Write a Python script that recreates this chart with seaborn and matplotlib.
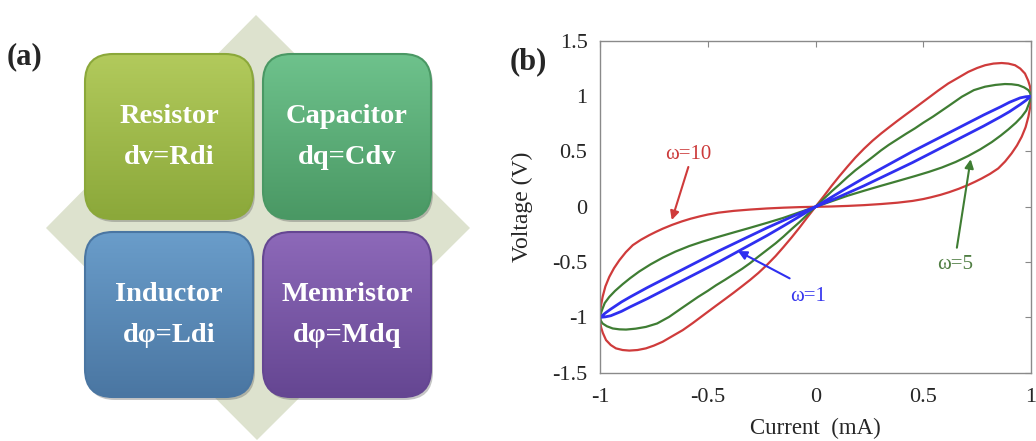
import numpy as np
import pandas as pd
import matplotlib
matplotlib.use('Agg')
import matplotlib.pyplot as plt
from matplotlib.patches import FancyBboxPatch, Polygon
from matplotlib.colors import to_rgb
import seaborn as sns

# ---- panel (a) labels ----
box_names = ['Resistor', 'Capacitor', 'Inductor', 'Memristor']
box_laws = ['dv=Rdi', 'dq=Cdv', 'dφ=Ldi', 'dφ=Mdq']
box_top_colors = ['#b2ca5c', '#6ec28c', '#6a9dca', '#8d69b9']
box_bot_colors = ['#8ba83a', '#4a9864', '#4a76a2', '#654692']

# ---- panel (b) data: hysteresis loops ----
# omega = 10 (red), steep branch (-1,-1) -> (1,1)
w10_steep_x = [-1.0, -0.999, -0.995, -0.987, -0.972, -0.95, -0.926, -0.895, -0.864, -0.826, -0.787, -0.75, -0.709, -0.665,
               -0.616, -0.57, -0.524, -0.462, -0.42, -0.38, -0.34, -0.304, -0.265, -0.225, -0.185, -0.149, -0.11, -0.075, -0.04, 0.0,
               0.04, 0.075, 0.11, 0.149, 0.185, 0.225, 0.265, 0.304, 0.34, 0.38, 0.42, 0.462, 0.524, 0.57, 0.616,
               0.665, 0.709, 0.75, 0.787, 0.826, 0.864, 0.895, 0.926, 0.95, 0.972, 0.987, 0.995, 0.999, 1.0]
w10_steep_y = [-1.0, -1.04, -1.09, -1.14, -1.205, -1.25, -1.28, -1.295, -1.30, -1.295, -1.28, -1.255, -1.22, -1.17,
               -1.115, -1.052, -0.985, -0.895, -0.835, -0.777, -0.717, -0.662, -0.598, -0.525, -0.445, -0.365, -0.275, -0.19, -0.1, 0.0,
               0.1, 0.19, 0.275, 0.365, 0.445, 0.525, 0.598, 0.662, 0.717, 0.777, 0.835, 0.895, 0.985, 1.052, 1.115,
               1.17, 1.22, 1.255, 1.28, 1.295, 1.30, 1.295, 1.28, 1.25, 1.205, 1.14, 1.09, 1.04, 1.0]
# flat branch (1,1) -> (-1,-1)
w10_flat_x = [1.0, 1.0, 0.996, 0.988, 0.975, 0.957, 0.935, 0.91, 0.88, 0.848, 0.81, 0.771, 0.74, 0.709, 0.665, 0.62,
              0.58, 0.536, 0.5, 0.45, 0.38, 0.304, 0.225, 0.149, 0.075, 0.0,
              -0.075, -0.149, -0.225, -0.304, -0.38, -0.45, -0.5, -0.536, -0.58, -0.62, -0.665, -0.709, -0.74,
              -0.771, -0.81, -0.848, -0.88, -0.91, -0.935, -0.957, -0.975, -0.988, -0.996, -1.0, -1.0]
w10_flat_y = [1.0, 0.96, 0.90, 0.815, 0.72, 0.634, 0.555, 0.483, 0.41, 0.347, 0.298, 0.256, 0.226, 0.198, 0.163, 0.132,
              0.108, 0.086, 0.07, 0.053, 0.037, 0.025, 0.015, 0.008, 0.003, 0.0,
              -0.003, -0.008, -0.015, -0.025, -0.037, -0.053, -0.07, -0.086, -0.108, -0.132, -0.163, -0.198, -0.226,
              -0.256, -0.298, -0.347, -0.41, -0.483, -0.555, -0.634, -0.72, -0.815, -0.90, -0.96, -1.0]
# omega = 5 (green)
w5_steep_x = [-1.0, -0.996, -0.988, -0.968, -0.941, -0.91, -0.879, -0.835, -0.787, -0.735, -0.679, -0.62, -0.545, -0.5,
              -0.462, -0.42, -0.38, -0.34, -0.304, -0.265, -0.225, -0.185, -0.149, -0.11, -0.075, -0.04, 0.0,
              0.04, 0.075, 0.11, 0.149, 0.185, 0.225, 0.265, 0.304, 0.34, 0.38, 0.42, 0.462,
              0.5, 0.545, 0.62, 0.679, 0.735, 0.787, 0.835, 0.879, 0.91, 0.941, 0.968, 0.988, 0.996, 1.0]
w5_steep_y = [-1.0, -1.03, -1.055, -1.08, -1.10, -1.108, -1.11, -1.102, -1.086, -1.055, -0.995, -0.915, -0.815, -0.76,
              -0.71, -0.66, -0.61, -0.56, -0.51, -0.45, -0.39, -0.33, -0.27, -0.2, -0.14, -0.075, 0.0,
              0.075, 0.14, 0.2, 0.27, 0.33, 0.39, 0.45, 0.51, 0.56, 0.61, 0.66, 0.71,
              0.76, 0.815, 0.915, 0.995, 1.055, 1.086, 1.102, 1.11, 1.108, 1.10, 1.08, 1.055, 1.03, 1.0]
w5_flat_x = [1.0, 0.997, 0.99, 0.978, 0.957, 0.93, 0.895, 0.86, 0.818, 0.765, 0.709, 0.65, 0.586, 0.525, 0.462, 0.38,
             0.304, 0.225, 0.149, 0.075, 0.0,
             -0.075, -0.149, -0.225, -0.304, -0.38, -0.462, -0.525, -0.586, -0.65, -0.709, -0.765, -0.818,
             -0.86, -0.895, -0.93, -0.957, -0.978, -0.99, -0.997, -1.0]
w5_flat_y = [1.0, 0.97, 0.93, 0.87, 0.815, 0.76, 0.70, 0.645, 0.585, 0.52, 0.46, 0.405, 0.355, 0.315, 0.278, 0.232,
             0.19, 0.145, 0.10, 0.05, 0.0,
             -0.05, -0.10, -0.145, -0.19, -0.232, -0.278, -0.315, -0.355, -0.405, -0.46, -0.52, -0.585,
             -0.645, -0.70, -0.76, -0.815, -0.87, -0.93, -0.97, -1.0]
# omega = 1 (blue)
w1_steep_x = [-1.0, -0.975, -0.95, -0.9, -0.86, -0.78, -0.7, -0.62, -0.55, -0.45, -0.375, -0.3, -0.225, -0.15, -0.075, 0.0,
              0.075, 0.15, 0.225, 0.3, 0.375, 0.45, 0.55, 0.62, 0.7, 0.78, 0.86, 0.9, 0.95, 0.975, 1.0]
w1_steep_y = [-1.0, -0.995, -0.985, -0.945, -0.905, -0.83, -0.75, -0.67, -0.60, -0.50, -0.42, -0.34, -0.26, -0.175, -0.088, 0.0,
              0.088, 0.175, 0.26, 0.34, 0.42, 0.50, 0.60, 0.67, 0.75, 0.83, 0.905, 0.945, 0.985, 0.995, 1.0]
w1_flat_x = [1.0, 0.975, 0.95, 0.9, 0.86, 0.78, 0.7, 0.62, 0.55, 0.45, 0.375, 0.3, 0.225, 0.15, 0.075, 0.0,
             -0.075, -0.15, -0.225, -0.3, -0.375, -0.45, -0.55, -0.62, -0.7, -0.78, -0.86, -0.9, -0.95, -0.975, -1.0]
w1_flat_y = [1.0, 0.96, 0.925, 0.86, 0.815, 0.73, 0.65, 0.57, 0.50, 0.40, 0.33, 0.26, 0.19, 0.125, 0.06, 0.0,
             -0.06, -0.125, -0.19, -0.26, -0.33, -0.40, -0.50, -0.57, -0.65, -0.73, -0.815, -0.86, -0.925, -0.96, -1.0]

xticks = [-1, -0.5, 0, 0.5, 1]
xtick_labels = ['-1', '-0.5', '0', '0.5', '1']
yticks = [-1.5, -1, -0.5, 0, 0.5, 1, 1.5]
ytick_labels = ['-1.5', '-1', '-0.5', '0', '0.5', '1', '1.5']

#build one long df for seaborn
loops = {'ω=10': (w10_steep_x + w10_flat_x, w10_steep_y + w10_flat_y),
         'ω=5': (w5_steep_x + w5_flat_x, w5_steep_y + w5_flat_y),
         'ω=1': (w1_steep_x + w1_flat_x, w1_steep_y + w1_flat_y)}
rows = []
for name, (xs, ys) in loops.items():
    for k, (xv, yv) in enumerate(zip(xs, ys)):
        rows.append({'omega': name, 'order': k, 'current': xv, 'voltage': yv})
df = pd.DataFrame(rows)

line_colors = {'ω=10': '#cf3b3b', 'ω=5': '#3f7d33', 'ω=1': '#2f2ff0'}
text_colors = {'ω=10': '#cc3a3a', 'ω=5': '#4f7d42', 'ω=1': '#3535ee'}
line_widths = {'ω=10': 1.6, 'ω=5': 1.6, 'ω=1': 2.0}

sns.set_style('white')
plt.rcParams['font.family'] = ['Liberation Serif', 'DejaVu Serif']

fig = plt.figure(figsize=(10.36, 4.41), dpi=100)

# ---------------- panel (a) ----------------
ax0 = fig.add_axes([0, 0, 1, 1])
ax0.set_xlim(0, 1036)
ax0.set_ylim(441, 0)
ax0.axis('off')

diamond = Polygon([(256, 15), (470, 228), (257, 440), (46, 228)], closed=True,
                  facecolor='#dde2ce', edgecolor='none', zorder=1)
ax0.add_patch(diamond)

box_x = [85, 263, 85, 263]
box_y = [54, 54, 232, 232]
bw, bh = 168, 165
for i in range(4):
    x0, y0 = box_x[i], box_y[i]
    # soft shadow
    shadow = FancyBboxPatch((x0 + 2, y0 + 3), bw, bh, boxstyle='round,pad=0,rounding_size=28',
                            facecolor='#5a5a5a', edgecolor='none', alpha=0.35, zorder=2)
    ax0.add_patch(shadow)
    patch = FancyBboxPatch((x0, y0), bw, bh, boxstyle='round,pad=0,rounding_size=28',
                           facecolor='none', edgecolor=box_bot_colors[i], lw=1.5, zorder=4)
    ax0.add_patch(patch)
    top = np.array(to_rgb(box_top_colors[i]))
    bot = np.array(to_rgb(box_bot_colors[i]))
    t = np.linspace(0, 1, 200)[:, None]
    grad = (top[None, :] * (1 - t) + bot[None, :] * t)[:, None, :]
    grad = np.repeat(grad, 2, axis=1)
    im = ax0.imshow(grad, extent=(x0, x0 + bw, y0 + bh, y0), aspect='auto', zorder=3,
                    interpolation='bilinear')
    clip = FancyBboxPatch((x0, y0), bw, bh, boxstyle='round,pad=0,rounding_size=28',
                          facecolor='none', edgecolor='none', transform=ax0.transData)
    ax0.add_patch(clip)
    im.set_clip_path(clip)
    cx, cy = x0 + bw / 2, y0 + bh / 2
    ax0.text(cx, cy - 20, box_names[i], ha='center', va='center', color='white',
             fontsize=20.5, fontweight='bold', zorder=5)
    ax0.text(cx, cy + 21, box_laws[i], ha='center', va='center', color='white',
             fontsize=20.5, fontweight='bold', zorder=5)

ax0.text(25, 57, '(a)', ha='center', va='center', fontsize=22, fontweight='bold')
ax0.text(528, 62, '(b)', ha='center', va='center', fontsize=22, fontweight='bold')

# ---------------- panel (b) ----------------
ax = fig.add_axes([600 / 1036, 1 - 372.7 / 441, 431 / 1036, 331.8 / 441])
for name in loops:
    sns.lineplot(data=df[df['omega'] == name], x='current', y='voltage', sort=False,
                 estimator=None, color=line_colors[name], lw=line_widths[name], ax=ax)

ax.set_xlim(-1, 1)
ax.set_ylim(-1.5, 1.5)
ax.set_xticks(xticks)
ax.set_xticklabels(xtick_labels)
ax.set_yticks(yticks)
ax.set_yticklabels(ytick_labels)
ax.tick_params(direction='in', length=4, width=0.8, color='#888888', labelsize=16,
               top=True, right=True, pad=9)
ax.tick_params(axis='x', pad=11)
for s in ax.spines.values():
    s.set_color('#8a8a8a')
    s.set_linewidth(1.0)
ax.set_xlabel('Current  (mA)', fontsize=16.5)
ax.set_ylabel('Voltage (V)', fontsize=17)
ax.xaxis.set_label_coords(0.5, -0.135)
ax.yaxis.set_label_coords(-0.155, 0.5)

#annotations: text spot, arrow tail, arrow head
ann_text = {'ω=10': (-0.59, 0.47), 'ω=5': (0.65, -0.52), 'ω=1': (-0.035, -0.81)}
ann_tail = {'ω=10': (-0.59, 0.36), 'ω=5': (0.656, -0.37), 'ω=1': (-0.12, -0.647)}
ann_head = {'ω=10': (-0.667, -0.12), 'ω=5': (0.72, 0.43), 'ω=1': (-0.36, -0.40)}
for name in loops:
    ax.text(*ann_text[name], name, color=text_colors[name], fontsize=15,
            ha='center', va='center')
    ax.annotate('', xy=ann_head[name], xytext=ann_tail[name],
                arrowprops=dict(arrowstyle='-|>', color=line_colors[name], lw=1.5,
                                mutation_scale=13, shrinkA=0, shrinkB=0))

plt.savefig('out.png', dpi=100)
